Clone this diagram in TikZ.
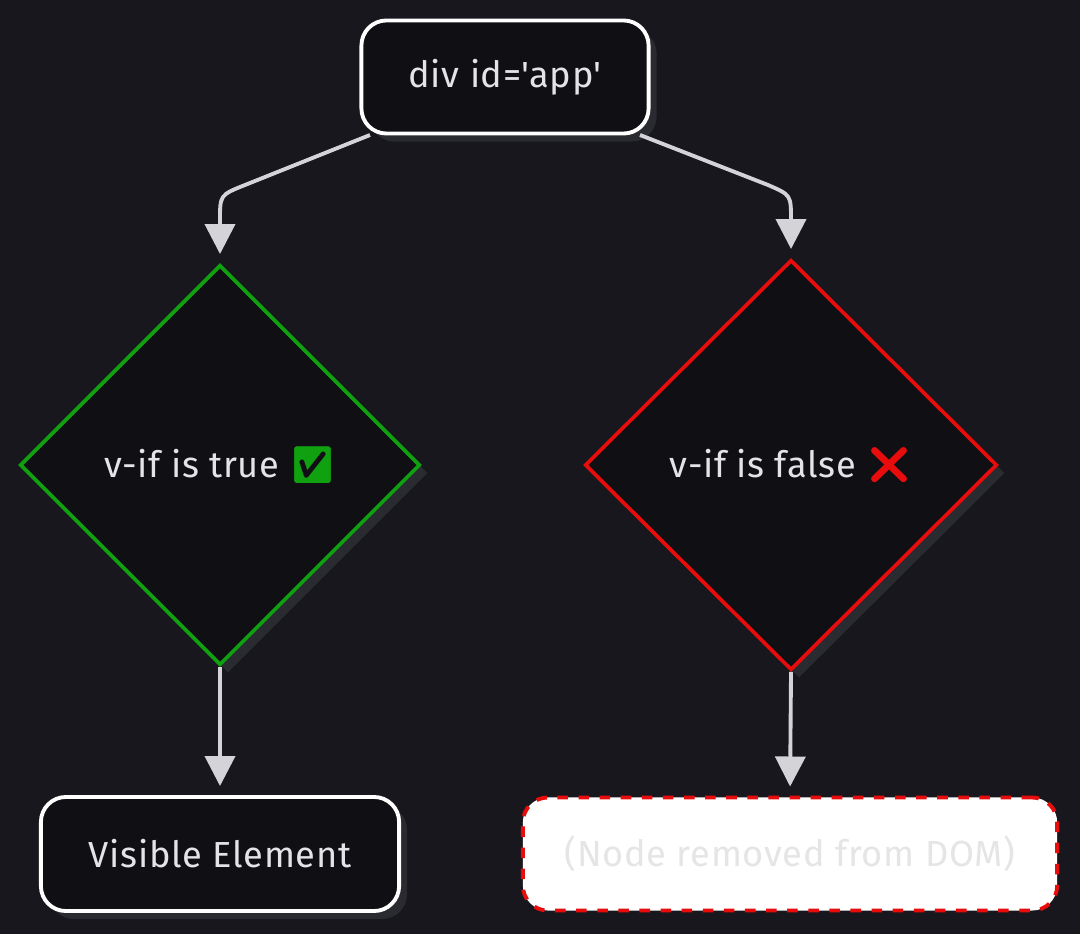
\documentclass[tikz,border=0pt]{standalone}
\usepackage{fontspec}
\setmainfont{Fira Sans}[LetterSpace=2]
\newfontfamily\emojifont{Noto Emoji}
\usetikzlibrary{shapes.geometric,arrows.meta,shadows}
\definecolor{bgdark}{HTML}{18171D}
\definecolor{nodefill}{HTML}{0F0F14}
\definecolor{shadowgray}{HTML}{2A2A31}
\definecolor{linkgray}{HTML}{D4D4D8}
\definecolor{labelgray}{HTML}{E4E4E7}
\definecolor{okgreen}{HTML}{0FA10F}
\definecolor{badred}{HTML}{E80C0C}
\begin{document}
\begin{tikzpicture}
  [x=0.01cm,y=-0.01cm,
   every node/.style={font=\fontsize{10.3}{12}\selectfont,text=labelgray},
   boxnode/.style={rectangle,rounded corners=0.25cm,draw=white,line width=1.1pt,fill=nodefill,
     drop shadow={fill=shadowgray,opacity=1,shadow xshift=0.08cm,shadow yshift=-0.08cm}},
   decision/.style={diamond,line width=1.05pt,fill=nodefill,inner sep=0pt,
     drop shadow={fill=shadowgray,opacity=1,shadow xshift=0.08cm,shadow yshift=-0.08cm}},
   link/.style={draw=linkgray,line width=1.1pt,shorten >=0.09cm,-{Triangle[width=0.3cm,length=0.3cm]}}]
  \fill[bgdark] (0,0) rectangle (1080,934);
  \useasboundingbox (0,0) rectangle (1080,934);
  \node[boxnode,minimum width=2.87cm,minimum height=1.13cm] (app) at (505,77) {div id=\textquotesingle app\textquotesingle};
  \node[decision,draw=okgreen,minimum width=4cm,minimum height=4cm] (vtrue) at (220,465)
    {v-if is true \emojifont\textcolor{okgreen}{✅}};
  \node[decision,draw=badred,minimum width=4.12cm,minimum height=4.1cm] (vfalse) at (791,465)
    {v-if is false \emojifont\textcolor{badred}{❌}};
  \node[boxnode,minimum width=3.58cm,minimum height=1.14cm] (shown) at (220,854) {Visible Element};
  \node[rectangle,rounded corners=0.25cm,draw=badred,dashed,line width=1.1pt,fill=white,
    text=black!10,minimum width=5.34cm,minimum height=1.13cm] (gone) at (790,854)
    {(Node removed from DOM)};
  \coordinate (ltop) at (370,135);
  \coordinate (rtop) at (640,135);
  \draw[link] (ltop) -- (245,185) .. controls (220,195) .. (220,220) -- (vtrue.north);
  \draw[link] (rtop) -- (768,185) .. controls (791,195) .. (791,220) -- (vfalse.north);
  \draw[link] (vtrue.south) -- (shown.north);
  \draw[link] (vfalse.south) -- (gone.north);
\end{tikzpicture}
\end{document}
